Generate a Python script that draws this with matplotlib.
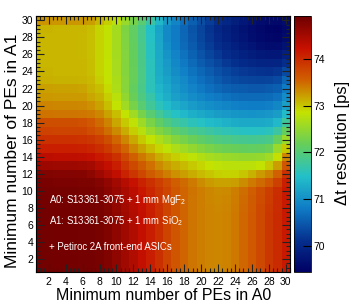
import numpy as np
import matplotlib
matplotlib.use("Agg")
import matplotlib.pyplot as plt
from matplotlib.colors import LinearSegmentedColormap
from matplotlib.ticker import MultipleLocator

plt.rcParams['font.family'] = ['Liberation Sans', 'DejaVu Sans']
plt.rcParams['mathtext.fontset'] = 'custom'
plt.rcParams['mathtext.rm'] = 'Liberation Sans'

# Bin centres (minimum number of PEs)
pe_a0 = list(range(1, 31))
pe_a1 = list(range(1, 31))

# Delta-t resolution [ps]; one list per A1 threshold (row), A0 threshold along the list
res_y01 = [74.88,74.88,74.87,74.87,74.87,74.86,74.86,74.84,74.78,74.66,74.53,74.40,74.27,74.12,73.97,73.80,73.65,73.53,73.45,73.40,73.36,73.35,73.37,73.43,73.52,73.62,73.76,73.90,74.02,74.15]
res_y02 = [74.88,74.88,74.87,74.87,74.87,74.86,74.86,74.84,74.78,74.66,74.53,74.40,74.27,74.12,73.97,73.80,73.65,73.53,73.45,73.40,73.36,73.35,73.37,73.43,73.52,73.62,73.76,73.90,74.02,74.15]
res_y03 = [74.88,74.88,74.87,74.87,74.87,74.86,74.86,74.84,74.78,74.66,74.53,74.40,74.27,74.12,73.97,73.80,73.65,73.53,73.45,73.40,73.36,73.35,73.37,73.43,73.52,73.62,73.76,73.90,74.02,74.15]
res_y04 = [74.88,74.88,74.87,74.87,74.87,74.86,74.86,74.84,74.78,74.66,74.53,74.40,74.27,74.12,73.97,73.80,73.65,73.53,73.45,73.40,73.36,73.35,73.37,73.43,73.52,73.62,73.76,73.90,74.02,74.15]
res_y05 = [74.88,74.88,74.87,74.87,74.87,74.86,74.86,74.84,74.78,74.66,74.53,74.40,74.27,74.12,73.97,73.80,73.65,73.53,73.45,73.40,73.36,73.35,73.37,73.43,73.52,73.62,73.76,73.90,74.02,74.15]
res_y06 = [74.88,74.88,74.87,74.87,74.87,74.86,74.86,74.84,74.78,74.66,74.53,74.40,74.27,74.12,73.97,73.80,73.65,73.53,73.45,73.40,73.36,73.35,73.37,73.43,73.52,73.62,73.76,73.90,74.02,74.15]
res_y07 = [74.88,74.88,74.87,74.87,74.87,74.86,74.86,74.84,74.78,74.66,74.53,74.40,74.27,74.12,73.97,73.80,73.65,73.53,73.45,73.40,73.36,73.35,73.37,73.43,73.52,73.62,73.76,73.90,74.02,74.15]
res_y08 = [74.87,74.87,74.87,74.87,74.86,74.86,74.85,74.83,74.76,74.64,74.51,74.38,74.25,74.10,73.95,73.80,73.65,73.53,73.45,73.40,73.36,73.34,73.36,73.42,73.51,73.61,73.75,73.89,74.01,74.15]
res_y09 = [74.87,74.87,74.86,74.86,74.86,74.85,74.85,74.82,74.74,74.62,74.49,74.36,74.22,74.08,73.93,73.79,73.64,73.53,73.45,73.40,73.35,73.33,73.35,73.41,73.50,73.60,73.73,73.87,74.00,74.15]
res_y10 = [74.86,74.86,74.85,74.85,74.85,74.84,74.83,74.80,74.70,74.58,74.45,74.32,74.18,74.04,73.90,73.78,73.63,73.53,73.46,73.40,73.35,73.32,73.33,73.40,73.48,73.58,73.70,73.85,73.98,74.15]
res_y11 = [74.83,74.83,74.82,74.82,74.82,74.81,74.80,74.75,74.65,74.52,74.37,74.22,74.08,73.95,73.83,73.72,73.58,73.50,73.42,73.32,73.25,73.20,73.20,73.22,73.32,73.42,73.50,73.62,73.82,74.10]
res_y12 = [74.76,74.76,74.75,74.75,74.75,74.73,74.68,74.55,74.42,74.28,74.08,73.92,73.77,73.60,73.50,73.39,73.30,73.22,73.15,73.07,73.02,72.97,72.95,72.96,73.02,73.12,73.24,73.36,73.56,73.95]
res_y13 = [74.56,74.56,74.55,74.55,74.55,74.54,74.50,74.38,74.27,74.12,73.92,73.75,73.60,73.47,73.33,73.22,73.15,73.07,73.00,72.93,72.87,72.82,72.80,72.78,72.78,72.80,72.85,73.00,73.22,73.65]
res_y14 = [74.31,74.31,74.30,74.30,74.30,74.29,74.25,74.17,74.08,73.95,73.76,73.57,73.43,73.30,73.15,73.05,72.98,72.90,72.82,72.72,72.65,72.60,72.56,72.53,72.50,72.50,72.52,72.60,72.88,73.35]
res_y15 = [74.11,74.11,74.10,74.10,74.10,74.09,74.05,73.98,73.88,73.72,73.53,73.35,73.20,73.05,72.93,72.82,72.70,72.60,72.50,72.40,72.32,72.26,72.22,72.18,72.15,72.14,72.15,72.22,72.55,73.00]
res_y16 = [73.96,73.96,73.95,73.95,73.95,73.94,73.90,73.83,73.70,73.52,73.35,73.17,73.00,72.85,72.70,72.55,72.40,72.30,72.20,72.10,72.02,71.96,71.92,71.88,71.85,71.84,71.85,71.90,72.15,72.55]
res_y17 = [73.81,73.81,73.80,73.80,73.80,73.79,73.72,73.63,73.48,73.33,73.15,72.98,72.77,72.55,72.38,72.25,72.10,72.00,71.90,71.82,71.75,71.68,71.62,71.57,71.53,71.52,71.53,71.57,71.75,72.15]
res_y18 = [73.71,73.71,73.70,73.70,73.70,73.69,73.62,73.50,73.37,73.18,73.00,72.83,72.58,72.32,72.12,71.95,71.80,71.70,71.60,71.52,71.45,71.40,71.35,71.30,71.27,71.26,71.27,71.30,71.42,71.78]
res_y19 = [73.46,73.46,73.45,73.45,73.45,73.44,73.42,73.35,73.20,73.05,72.85,72.60,72.30,72.05,71.82,71.65,71.52,71.42,71.33,71.26,71.20,71.15,71.10,71.06,71.04,71.03,71.04,71.07,71.15,71.45]
res_y20 = [73.36,73.36,73.35,73.35,73.35,73.34,73.30,73.20,73.05,72.85,72.60,72.30,72.05,71.80,71.60,71.45,71.32,71.22,71.13,71.05,71.00,70.95,70.90,70.86,70.84,70.83,70.83,70.85,70.92,71.18]
res_y21 = [73.26,73.26,73.25,73.25,73.25,73.24,73.18,73.12,72.98,72.78,72.50,72.20,71.95,71.70,71.45,71.32,71.18,71.08,70.98,70.90,70.84,70.78,70.72,70.68,70.66,70.65,70.65,70.67,70.72,70.98]
res_y22 = [73.21,73.21,73.20,73.20,73.20,73.19,73.12,73.05,72.90,72.70,72.42,72.15,71.90,71.60,71.38,71.25,71.10,71.00,70.88,70.78,70.70,70.62,70.56,70.52,70.50,70.48,70.48,70.50,70.55,70.80]
res_y23 = [73.13,73.13,73.12,73.12,73.12,73.11,73.08,72.98,72.86,72.68,72.42,72.18,71.92,71.60,71.33,71.20,71.05,70.95,70.80,70.70,70.60,70.50,70.42,70.36,70.32,70.30,70.29,70.30,70.35,70.60]
res_y24 = [73.11,73.11,73.10,73.10,73.10,73.10,73.05,72.95,72.85,72.65,72.40,72.18,71.92,71.58,71.30,71.15,70.99,70.86,70.73,70.62,70.52,70.42,70.33,70.26,70.20,70.16,70.14,70.13,70.16,70.35]
res_y25 = [73.10,73.10,73.10,73.10,73.10,73.09,73.05,72.95,72.85,72.65,72.40,72.17,71.91,71.57,71.28,71.10,70.93,70.78,70.65,70.53,70.42,70.32,70.20,70.12,70.05,70.00,69.96,69.94,69.96,70.10]
res_y26 = [73.10,73.10,73.09,73.09,73.09,73.08,73.04,72.94,72.84,72.64,72.39,72.16,71.90,71.55,71.26,71.05,70.88,70.72,70.57,70.44,70.32,70.20,70.08,70.00,69.92,69.85,69.80,69.77,69.78,69.88]
res_y27 = [73.10,73.10,73.09,73.09,73.09,73.08,73.04,72.94,72.84,72.64,72.38,72.15,71.89,71.54,71.24,71.00,70.83,70.66,70.50,70.37,70.23,70.10,69.98,69.88,69.80,69.72,69.66,69.62,69.62,69.70]
res_y28 = [73.10,73.10,73.09,73.09,73.09,73.08,73.04,72.94,72.84,72.63,72.37,72.14,71.88,71.52,71.22,70.95,70.80,70.62,70.47,70.32,70.18,70.03,69.92,69.82,69.72,69.64,69.58,69.53,69.52,69.60]
res_y29 = [73.11,73.11,73.10,73.10,73.10,73.09,73.05,72.95,72.84,72.63,72.36,72.13,71.87,71.50,71.20,70.95,70.80,70.60,70.45,70.30,70.15,70.00,69.90,69.80,69.70,69.62,69.55,69.50,69.48,69.55]
res_y30 = [73.28,73.28,73.27,73.27,73.27,73.26,73.22,73.10,72.98,72.80,72.55,72.30,72.05,71.72,71.40,71.10,70.90,70.70,70.55,70.40,70.25,70.10,69.98,69.88,69.78,69.70,69.62,69.57,69.55,69.62]

rows = [res_y01, res_y02, res_y03, res_y04, res_y05, res_y06, res_y07, res_y08, res_y09, res_y10,
        res_y11, res_y12, res_y13, res_y14, res_y15, res_y16, res_y17, res_y18, res_y19, res_y20,
        res_y21, res_y22, res_y23, res_y24, res_y25, res_y26, res_y27, res_y28, res_y29, res_y30]
Z = np.array(rows)

x_ticks = list(range(2, 31, 2))
y_ticks = list(range(2, 31, 2))
z_ticks = [70, 71, 72, 73, 74]
z_min, z_max = 69.44, 74.92

# ROOT kRainBow palette
stops = [0.0, 0.125, 0.25, 0.375, 0.5, 0.625, 0.75, 0.875, 1.0]
rgb = [(0, 0, 99), (5, 48, 142), (15, 124, 198), (35, 192, 201), (102, 206, 90),
       (196, 226, 0), (208, 97, 0), (199, 16, 0), (110, 0, 0)]
cmap = LinearSegmentedColormap.from_list(
    "krainbow", [(s, tuple(c / 255 for c in col)) for s, col in zip(stops, rgb)], N=512)

W, H = 355, 305
fig = plt.figure(figsize=(W / 100, H / 100), dpi=100)
ax = fig.add_axes([36 / W, 1 - 272 / H, 254 / W, 256 / H])
cax = fig.add_axes([294 / W, 1 - 272 / H, 17 / W, 256 / H])

xe = np.arange(0.5, 31.0, 1.0)
ye = np.arange(0.5, 31.0, 1.0)
mesh = ax.pcolormesh(xe, ye, Z, cmap=cmap, vmin=z_min, vmax=z_max, shading='flat')
ax.set_xlim(0.5, 30.5)
ax.set_ylim(0.5, 30.5)
ax.set_xticks(x_ticks)
ax.set_yticks(y_ticks)
ax.xaxis.set_minor_locator(MultipleLocator(0.5))
ax.yaxis.set_minor_locator(MultipleLocator(0.5))
ax.tick_params(which='both', direction='in', top=True, right=True, width=0.8, color='#222222')
ax.tick_params(which='major', length=6)
ax.tick_params(which='minor', length=3)
ax.tick_params(axis='x', which='major', labelsize=7.5, pad=3.5)
ax.tick_params(axis='y', which='major', labelsize=7.5, pad=2)
for s in ax.spines.values():
    s.set_linewidth(0.8)

cb = fig.colorbar(mesh, cax=cax)
cb.set_ticks(z_ticks)
cb.outline.set_linewidth(0.6)
cax.tick_params(which='major', direction='in', length=6, width=0.8, labelsize=7.5, pad=2)
cax.minorticks_off()

fig.text(164 / W, 1 - 300 / H, "Minimum number of PEs in A0", fontsize=11.5,
         ha='center', va='baseline')
fig.text(13 / W, 1 - 151 / H, "Minimum number of PEs in A1", fontsize=12.5,
         ha='center', va='center', rotation=90)
fig.text(342 / W, 1 - 143 / H, "\u0394t resolution [ps]", fontsize=12,
         ha='center', va='center', rotation=90)

note_kw = dict(color='white', fontsize=6.9, ha='left', va='center', transform=ax.transData)
ax.text(2.0, 8.93, "A0: S13361-3075 + 1 mm MgF$_\\mathregular{2}$", **note_kw)
ax.text(2.0, 6.47, "A1: S13361-3075 + 1 mm SiO$_\\mathregular{2}$", **note_kw)
ax.text(2.0, 3.42, "+ Petiroc 2A front-end ASICs", **note_kw)

fig.savefig("out.png", dpi=100)
